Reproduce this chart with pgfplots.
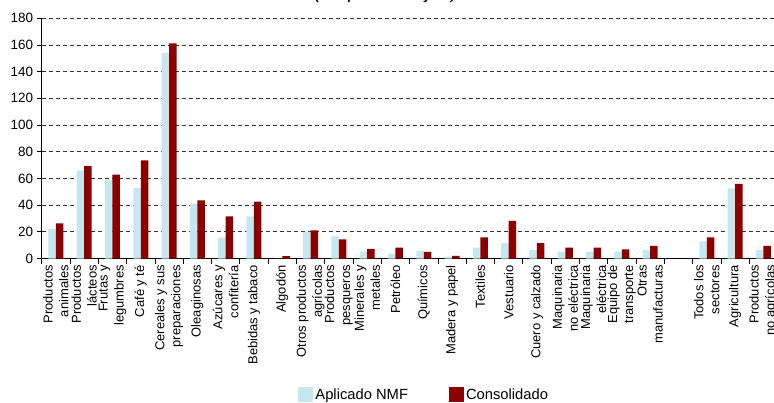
\documentclass[border=0pt]{standalone}
\usepackage{fontspec}
\setmainfont{Liberation Sans}
\usepackage{pgfplots}
\pgfplotsset{compat=1.18}

\definecolor{nmf}{RGB}{197,232,240}
\definecolor{consol}{RGB}{139,0,0}

\begin{document}
\begin{tikzpicture}
\begin{axis}[
    scale only axis,
    width=735.8bp, height=240.2bp,
    at={(0,0)}, anchor=south west,
    xmin=0, xmax=26, ymin=0, ymax=180,
    axis lines*=left,
    axis line style={black, line width=0.8bp},
    tick align=outside,
    ytick={0,20,...,180},
    major tick length=5bp,
    minor tick length=5bp,
    xtick={0.5,1.5,...,25.5},
    minor xtick={0,1,...,26},
    major x tick style={draw=none},
    minor x tick style={black, line width=0.8bp},
    ytick style={black, line width=0.8bp},
    xticklabels={{Productos\\animales},{Productos\\lácteos},{Frutas y\\legumbres},{Café y té},{Cereales y sus\\preparaciones},{Oleaginosas},{Azúcares y\\confitería},{Bebidas y tabaco},{Algodón},{Otros productos\\agrícolas},{Productos\\pesqueros},{Minerales y\\metales},{Petróleo},{Químicos},{Madera y papel},{Textiles},{Vestuario},{Cuero y calzado},{Maquinaria\\no eléctrica},{Maquinaria\\eléctrica},{Equipo de\\transporte},{Otras\\manufacturas},{},{Todos los\\sectores},{Agricultura},{Productos\\no agrícolas}},
    xticklabel style={rotate=90, anchor=east, align=right, font=\fontsize{13}{16}\selectfont, inner sep=1.5bp},
    yticklabel style={font=\fontsize{13.5}{15}\selectfont},
    /pgf/number format/assume math mode=true,
    ymajorgrids,
    major grid style={dash pattern=on 4bp off 3bp, black!80, line width=0.8bp},
    ybar, bar width=7.5bp,
    legend columns=2,
    legend style={at={(0.3487,-0.568)}, anchor=west, draw=none, fill=none, inner sep=0pt,
        font=\fontsize{14.8}{16}\selectfont,
        /tikz/every even column/.append style={column sep=2bp},
        /tikz/every odd column/.append style={column sep=0bp}},
    legend image code/.code={\fill[#1] (0bp,-7.5bp) rectangle (15bp,7.5bp);},
]
\addplot[fill=nmf, draw=none, bar shift=-3.75bp] coordinates {
    (0.5,22) (1.5,66) (2.5,59) (3.5,53) (4.5,154) (5.5,41) (6.5,15.7) (7.5,31.6)
    (8.5,0) (9.5,20) (10.5,16.6) (11.5,5) (12.5,3.6) (13.5,5.5) (14.5,1.4)
    (15.5,8.2) (16.5,11.5) (17.5,6.2) (18.5,5.1) (19.5,5.1) (20.5,5.1) (21.5,6.2)
    (23.5,12.8) (24.5,52.6) (25.5,6.2)
};
\addplot[fill=consol, draw=none, bar shift=3.75bp] coordinates {
    (0.5,26.3) (1.5,69.3) (2.5,62.9) (3.5,73.5) (4.5,161.3) (5.5,43.5) (6.5,31.6) (7.5,42.7)
    (8.5,1.7) (9.5,21.1) (10.5,14.4) (11.5,7.2) (12.5,8.2) (13.5,5) (14.5,2)
    (15.5,15.9) (16.5,28.2) (17.5,11.5) (18.5,8.2) (19.5,8.2) (20.5,6.9) (21.5,9.5)
    (23.5,15.9) (24.5,55.9) (25.5,9.5)
};
\legend{Aplicado NMF\rule{37bp}{0pt},Consolidado}
\end{axis}
\node[anchor=base, font=\fontsize{20}{22}\selectfont\itshape] at (344.3bp,259.5bp) {(en porcentajes)};
\pgfresetboundingbox
\path[use as bounding box] (-41.7bp,-144.5bp) rectangle (732.3bp,258.5bp);
\end{tikzpicture}
\end{document}
